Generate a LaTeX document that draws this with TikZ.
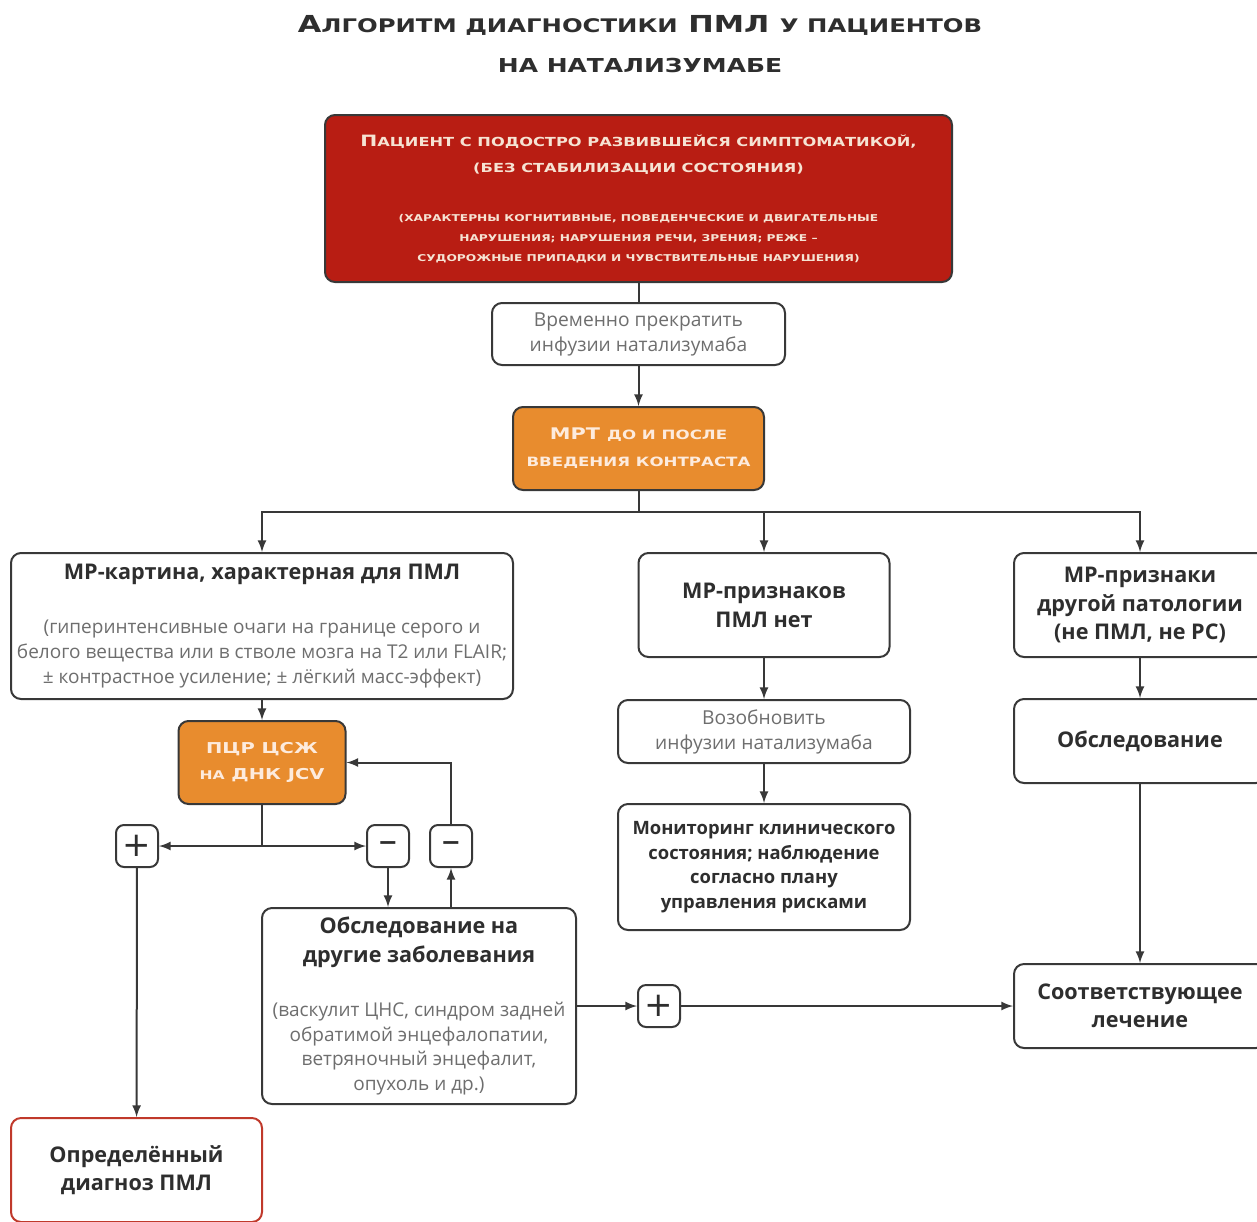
\documentclass[tikz,border=0pt]{standalone}
\usepackage{fontspec}
\setmainfont{Open Sans}
\newfontfamily\capsfont[FakeStretch=1.3]{DejaVu Sans}
\newfontfamily\signfont{DejaVu Sans}
\usepackage{tikz}
\usetikzlibrary{calc}

\definecolor{linegray}{HTML}{383838}
\definecolor{notegray}{HTML}{6E6E6E}
\definecolor{textdark}{HTML}{2E2E2E}
\definecolor{pmlred}{HTML}{B81D13}
\definecolor{mrtorange}{HTML}{E88C2E}
\definecolor{redtext}{HTML}{F6E3D3}
\definecolor{orangetext}{HTML}{FDEBDD}
\definecolor{surered}{HTML}{C0392B}

\makeatletter
\newcommand\smc[1]{{\@tempdima=\f@size pt\@tempdima=0.8\@tempdima
  \fontsize{\strip@pt\@tempdima}{\baselineskip}\selectfont #1}}
\makeatother
\newcommand\redsmall{\fontsize{4.7}{10}\selectfont}
\newcommand\notestyle{\color{notegray}}
\newcommand\headstyle{\bfseries\fontsize{10.8}{14}\selectfont}

\tikzset{
  box/.style={draw=linegray, line width=1pt, rounded corners=5pt, fill=white,
    align=center, inner sep=0pt, text=textdark},
  redbox/.style={box, fill=pmlred, text=redtext},
  orangebox/.style={box, fill=mrtorange, text=orangetext},
  signbox/.style={box, minimum width=21pt, minimum height=21pt, rounded corners=4pt},
  conn/.style={draw=linegray, line width=1pt},
}

\begin{document}
\begin{tikzpicture}[x=0.5pt, y=-0.5pt, >=latex]
  \path[use as bounding box, fill=white] (0,0) rectangle (1257,1221);

  \node[align=center, text=textdark, font=\capsfont\bfseries\fontsize{11.7}{20}\selectfont] (title) at (640,44)
    {А\smc{ЛГОРИТМ ДИАГНОСТИКИ} ПМЛ \smc{У ПАЦИЕНТОВ}\\\fontsize{9.6}{20}\selectfont НА НАТАЛИЗУМАБЕ};

  % top of the chart
  \node[redbox, minimum width=313.5pt, minimum height=83.5pt, font=\capsfont\bfseries\fontsize{7.8}{10}\selectfont] (patient) at (638.5,198.5)
    {П\smc{АЦИЕНТ С ПОДОСТРО РАЗВИВШЕЙСЯ СИМПТОМАТИКОЙ,}\\[3pt]
     \smc{(БЕЗ СТАБИЛИЗАЦИИ СОСТОЯНИЯ)}\\[14.5pt]
     \redsmall (ХАРАКТЕРНЫ КОГНИТИВНЫЕ, ПОВЕДЕНЧЕСКИЕ И ДВИГАТЕЛЬНЫЕ\\
     \redsmall НАРУШЕНИЯ; НАРУШЕНИЯ РЕЧИ, ЗРЕНИЯ; РЕЖЕ –\\
     \redsmall СУДОРОЖНЫЕ ПРИПАДКИ И ЧУВСТВИТЕЛЬНЫЕ НАРУШЕНИЯ)};
  \node[box, minimum width=146.5pt, minimum height=31pt, text=notegray, font=\fontsize{9.6}{12.5}\selectfont] (pause) at (638.5,334)
    {Временно прекратить\\инфузии натализумаба};
  \node[orangebox, minimum width=125.5pt, minimum height=41.5pt, font=\capsfont\bfseries\fontsize{8}{13.5}\selectfont] (mri) at (638.5,448.5)
    {МРТ \smc{ДО И ПОСЛЕ}\\\smc{ВВЕДЕНИЯ КОНТРАСТА}};

  % three branches
  \node[box, minimum width=251pt, minimum height=73pt, font=\fontsize{9.5}{12.5}\selectfont] (mrpml) at (262,626)
    {\headstyle МР-картина, характерная для ПМЛ\\[14.5pt]
     \notestyle (гиперинтенсивные очаги на границе серого и\\
     \notestyle белого вещества или в стволе мозга на T2 или FLAIR;\\
     \notestyle ± контрастное усиление; ± лёгкий масс-эффект)};
  \node[box, minimum width=125.5pt, minimum height=52pt, font=\bfseries\fontsize{10.8}{14.5}\selectfont] (nosigns) at (764,605)
    {МР-признаков\\ПМЛ нет};
  \node[box, minimum width=126pt, minimum height=52pt, font=\bfseries\fontsize{10.8}{14.25}\selectfont] (othersigns) at (1140,605)
    {МР-признаки\\другой патологии\\(не ПМЛ, не РС)};

  % left branch
  \node[orangebox, minimum width=83.5pt, minimum height=41.5pt, font=\capsfont\bfseries\fontsize{7.5}{13}\selectfont] (pcr) at (262,762.5)
    {ПЦР ЦСЖ\\\smc{НА} ДНК JCV};
  \node[signbox, font=\signfont\fontsize{17}{17}\selectfont] (plusL) at (137,846) {+};
  \node[signbox, font=\signfont\bfseries\fontsize{12}{12}\selectfont] (minusL) at (388,846) {−};
  \node[signbox, font=\signfont\bfseries\fontsize{12}{12}\selectfont] (minusR) at (451,846) {−};
  \node[box, minimum width=157pt, minimum height=98pt, font=\fontsize{9.5}{12.25}\selectfont] (otherdx) at (419,1006)
    {\headstyle Обследование на\\[2.25pt]
     \headstyle другие заболевания\\[14.75pt]
     \notestyle (васкулит ЦНС, синдром задней\\
     \notestyle обратимой энцефалопатии,\\
     \notestyle ветряночный энцефалит,\\
     \notestyle опухоль и др.)};
  \node[signbox, font=\signfont\fontsize{17}{17}\selectfont] (plusM) at (659,1006) {+};
  \node[box, draw=surered, minimum width=125.5pt, minimum height=52pt, font=\headstyle] (sure) at (136.5,1170)
    {Определённый\\диагноз ПМЛ};

  % middle branch
  \node[box, minimum width=146pt, minimum height=31.5pt, text=notegray, font=\fontsize{9.6}{12.5}\selectfont] (resume) at (764,731.5)
    {Возобновить\\инфузии натализумаба};
  \node[box, minimum width=146pt, minimum height=63pt, font=\bfseries\fontsize{9.2}{12.25}\selectfont] (monitor) at (764,867)
    {Мониторинг клинического\\состояния; наблюдение\\согласно плану\\управления рисками};

  % right branch
  \node[box, minimum width=126pt, minimum height=42pt, font=\headstyle] (exam) at (1140,741)
    {Обследование};
  \node[box, minimum width=126pt, minimum height=42pt, font=\headstyle] (treat) at (1140,1006)
    {Соответствующее\\лечение};

  % connectors
  \draw[conn] (patient) -- (pause);
  \draw[conn,->] (pause) -- (mri);
  \coordinate (fork1) at (638.5,512);
  \draw[conn] (mri) -- (fork1);
  \draw[conn,->] (fork1) -| (mrpml);
  \draw[conn,->] (fork1) -| (nosigns);
  \draw[conn,->] (fork1) -| (othersigns);
  \draw[conn,->] (mrpml) -- (pcr);
  \coordinate (fork2) at (262,846);
  \draw[conn] (pcr) -- (fork2);
  \draw[conn,->] (fork2) -- (plusL);
  \draw[conn,->] (fork2) -- (minusL);
  \draw[conn,->] (minusL) -- (minusL |- otherdx.north);
  \draw[conn,->] (minusR |- otherdx.north) -- (minusR);
  \draw[conn,->] (minusR) |- (pcr);
  \draw[conn,->] (plusL) -- (sure);
  \draw[conn,->] (otherdx) -- (plusM);
  \draw[conn,->] (plusM) -- (treat);
  \draw[conn,->] (nosigns) -- (resume);
  \draw[conn,->] (resume) -- (monitor);
  \draw[conn,->] (othersigns) -- (exam);
  \draw[conn,->] (exam) -- (treat);
\end{tikzpicture}
\end{document}
